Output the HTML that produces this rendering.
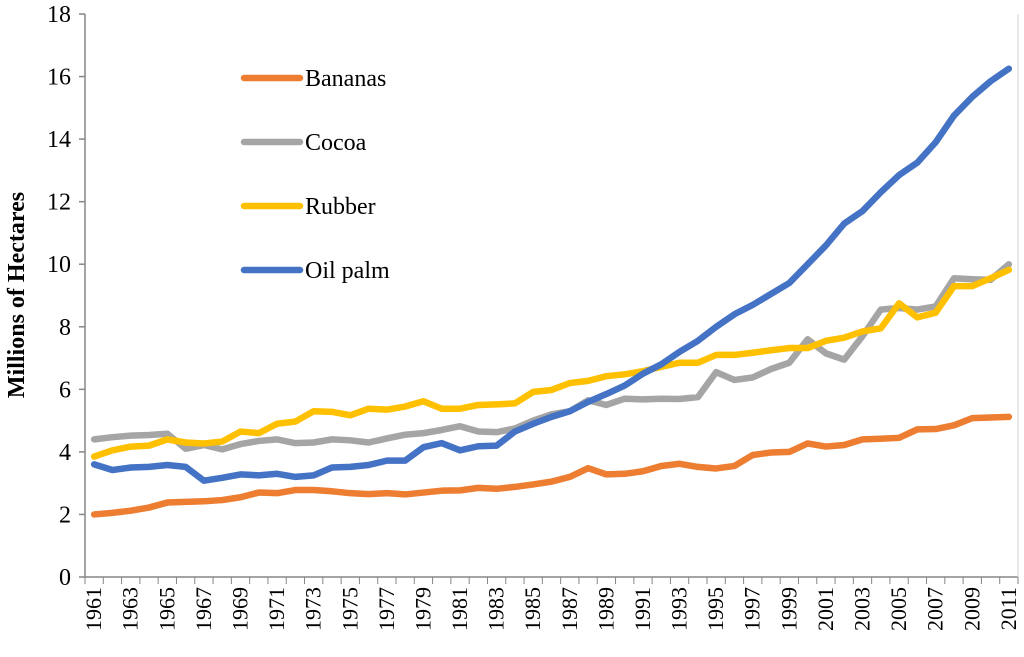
<!DOCTYPE html>
<html><head><meta charset="utf-8"><style>
body{margin:0;background:#fff}
svg text{font-family:"Liberation Serif",serif;fill:#000}
</style></head><body>
<svg id="c" width="1024" height="652"></svg>
<script>
const years=[];for(let y=1961;y<=2011;y++)years.push(y);
const bananas=[2.0,2.05,2.12,2.22,2.38,2.4,2.42,2.46,2.55,2.7,2.68,2.78,2.78,2.74,2.68,2.65,2.68,2.64,2.7,2.76,2.77,2.85,2.82,2.88,2.96,3.05,3.2,3.48,3.28,3.3,3.38,3.55,3.62,3.52,3.47,3.55,3.9,3.98,4.0,4.27,4.17,4.22,4.4,4.42,4.45,4.72,4.73,4.85,5.08,5.1,5.12];
const cocoa=[4.4,4.47,4.52,4.54,4.58,4.1,4.22,4.08,4.25,4.35,4.4,4.28,4.3,4.4,4.37,4.3,4.43,4.55,4.6,4.7,4.82,4.65,4.63,4.75,5.0,5.2,5.3,5.65,5.5,5.7,5.68,5.7,5.69,5.75,6.55,6.3,6.38,6.65,6.85,7.6,7.15,6.95,7.7,8.55,8.6,8.55,8.65,9.55,9.52,9.5,10.0];
const rubber=[3.85,4.05,4.17,4.2,4.4,4.3,4.27,4.33,4.65,4.6,4.9,4.97,5.3,5.28,5.17,5.38,5.35,5.45,5.62,5.38,5.38,5.5,5.52,5.55,5.92,5.98,6.2,6.27,6.42,6.48,6.58,6.72,6.85,6.85,7.1,7.1,7.17,7.25,7.32,7.32,7.55,7.65,7.85,7.95,8.75,8.3,8.45,9.3,9.3,9.55,9.82];
const oilPalm=[3.6,3.42,3.5,3.52,3.58,3.52,3.08,3.17,3.28,3.25,3.3,3.2,3.25,3.5,3.52,3.58,3.72,3.72,4.15,4.28,4.05,4.18,4.2,4.65,4.9,5.12,5.3,5.6,5.85,6.12,6.5,6.8,7.2,7.55,8.0,8.4,8.7,9.05,9.4,10.0,10.6,11.3,11.7,12.3,12.85,13.25,13.9,14.75,15.35,15.85,16.25];
const yTicks=[0,2,4,6,8,10,12,14,16,18];
const seriesNames=["Bananas","Cocoa","Rubber","Oil palm"];
const colors=["#ED7D31","#A5A5A5","#FFC000","#4472C4"];
const L=85,R=1018,T=14,B=577,yMax=18;
const step=(R-L)/years.length;
const xs=i=>L+step*(i+0.5);
const ys=v=>B-(v/yMax)*(B-T);
const svg=document.getElementById('c');const NS='http://www.w3.org/2000/svg';
function mk(t,a,p){const e=document.createElementNS(NS,t);for(const k in a)e.setAttribute(k,a[k]);(p||svg).appendChild(e);return e;}
let ax=mk('line',{x1:L,y1:T,x2:L,y2:B,stroke:'#868686','stroke-width':1.5});


let bx=mk('line',{x1:L,y1:B,x2:R,y2:B,stroke:'#868686','stroke-width':1.5});


let rx=mk('line',{x1:R,y1:T,x2:R,y2:B,stroke:'#d0d0d0','stroke-width':1});


yTicks.forEach(v=>{
 mk('line',{x1:L-6,y1:ys(v),x2:L,y2:ys(v),stroke:'#868686','stroke-width':1.5});
 const t=mk('text',{x:71,y:ys(v)+8,'text-anchor':'end','font-size':24});t.textContent=v;
 
 
});
for(let i=0;i<=years.length;i++){const x=L+step*i;mk('line',{x1:x,y1:B,x2:x,y2:B+7,stroke:'#868686','stroke-width':1});}
years.forEach((y,i)=>{if(i%2)return;const x=xs(i);
 const t=mk('text',{x:0,y:0,'text-anchor':'end','font-size':22,transform:`translate(${x+7},${B+10}) rotate(-90)`});t.textContent=y;
 
 
});
const yt=mk('text',{x:0,y:0,'text-anchor':'middle','font-size':24,'font-weight':'bold',transform:'translate(24,295) rotate(-90)'});yt.textContent='Millions of Hectares';


[bananas,cocoa,rubber,oilPalm].forEach((d,s)=>{
 const p=mk('polyline',{points:d.map((v,i)=>xs(i)+','+ys(v)).join(' '),fill:'none',stroke:colors[s],'stroke-width':6.5,'stroke-linejoin':'round','stroke-linecap':'round'});
 
 
 const ly=78+64*s;
 const g=mk('g',{});
 
 
 mk('line',{x1:244,y1:ly,x2:300,y2:ly,stroke:colors[s],'stroke-width':6.5,'stroke-linecap':'round'},g);
 const t=mk('text',{x:305,y:ly+8,'font-size':24},g);t.textContent=seriesNames[s];
});
</script>
</body></html>
